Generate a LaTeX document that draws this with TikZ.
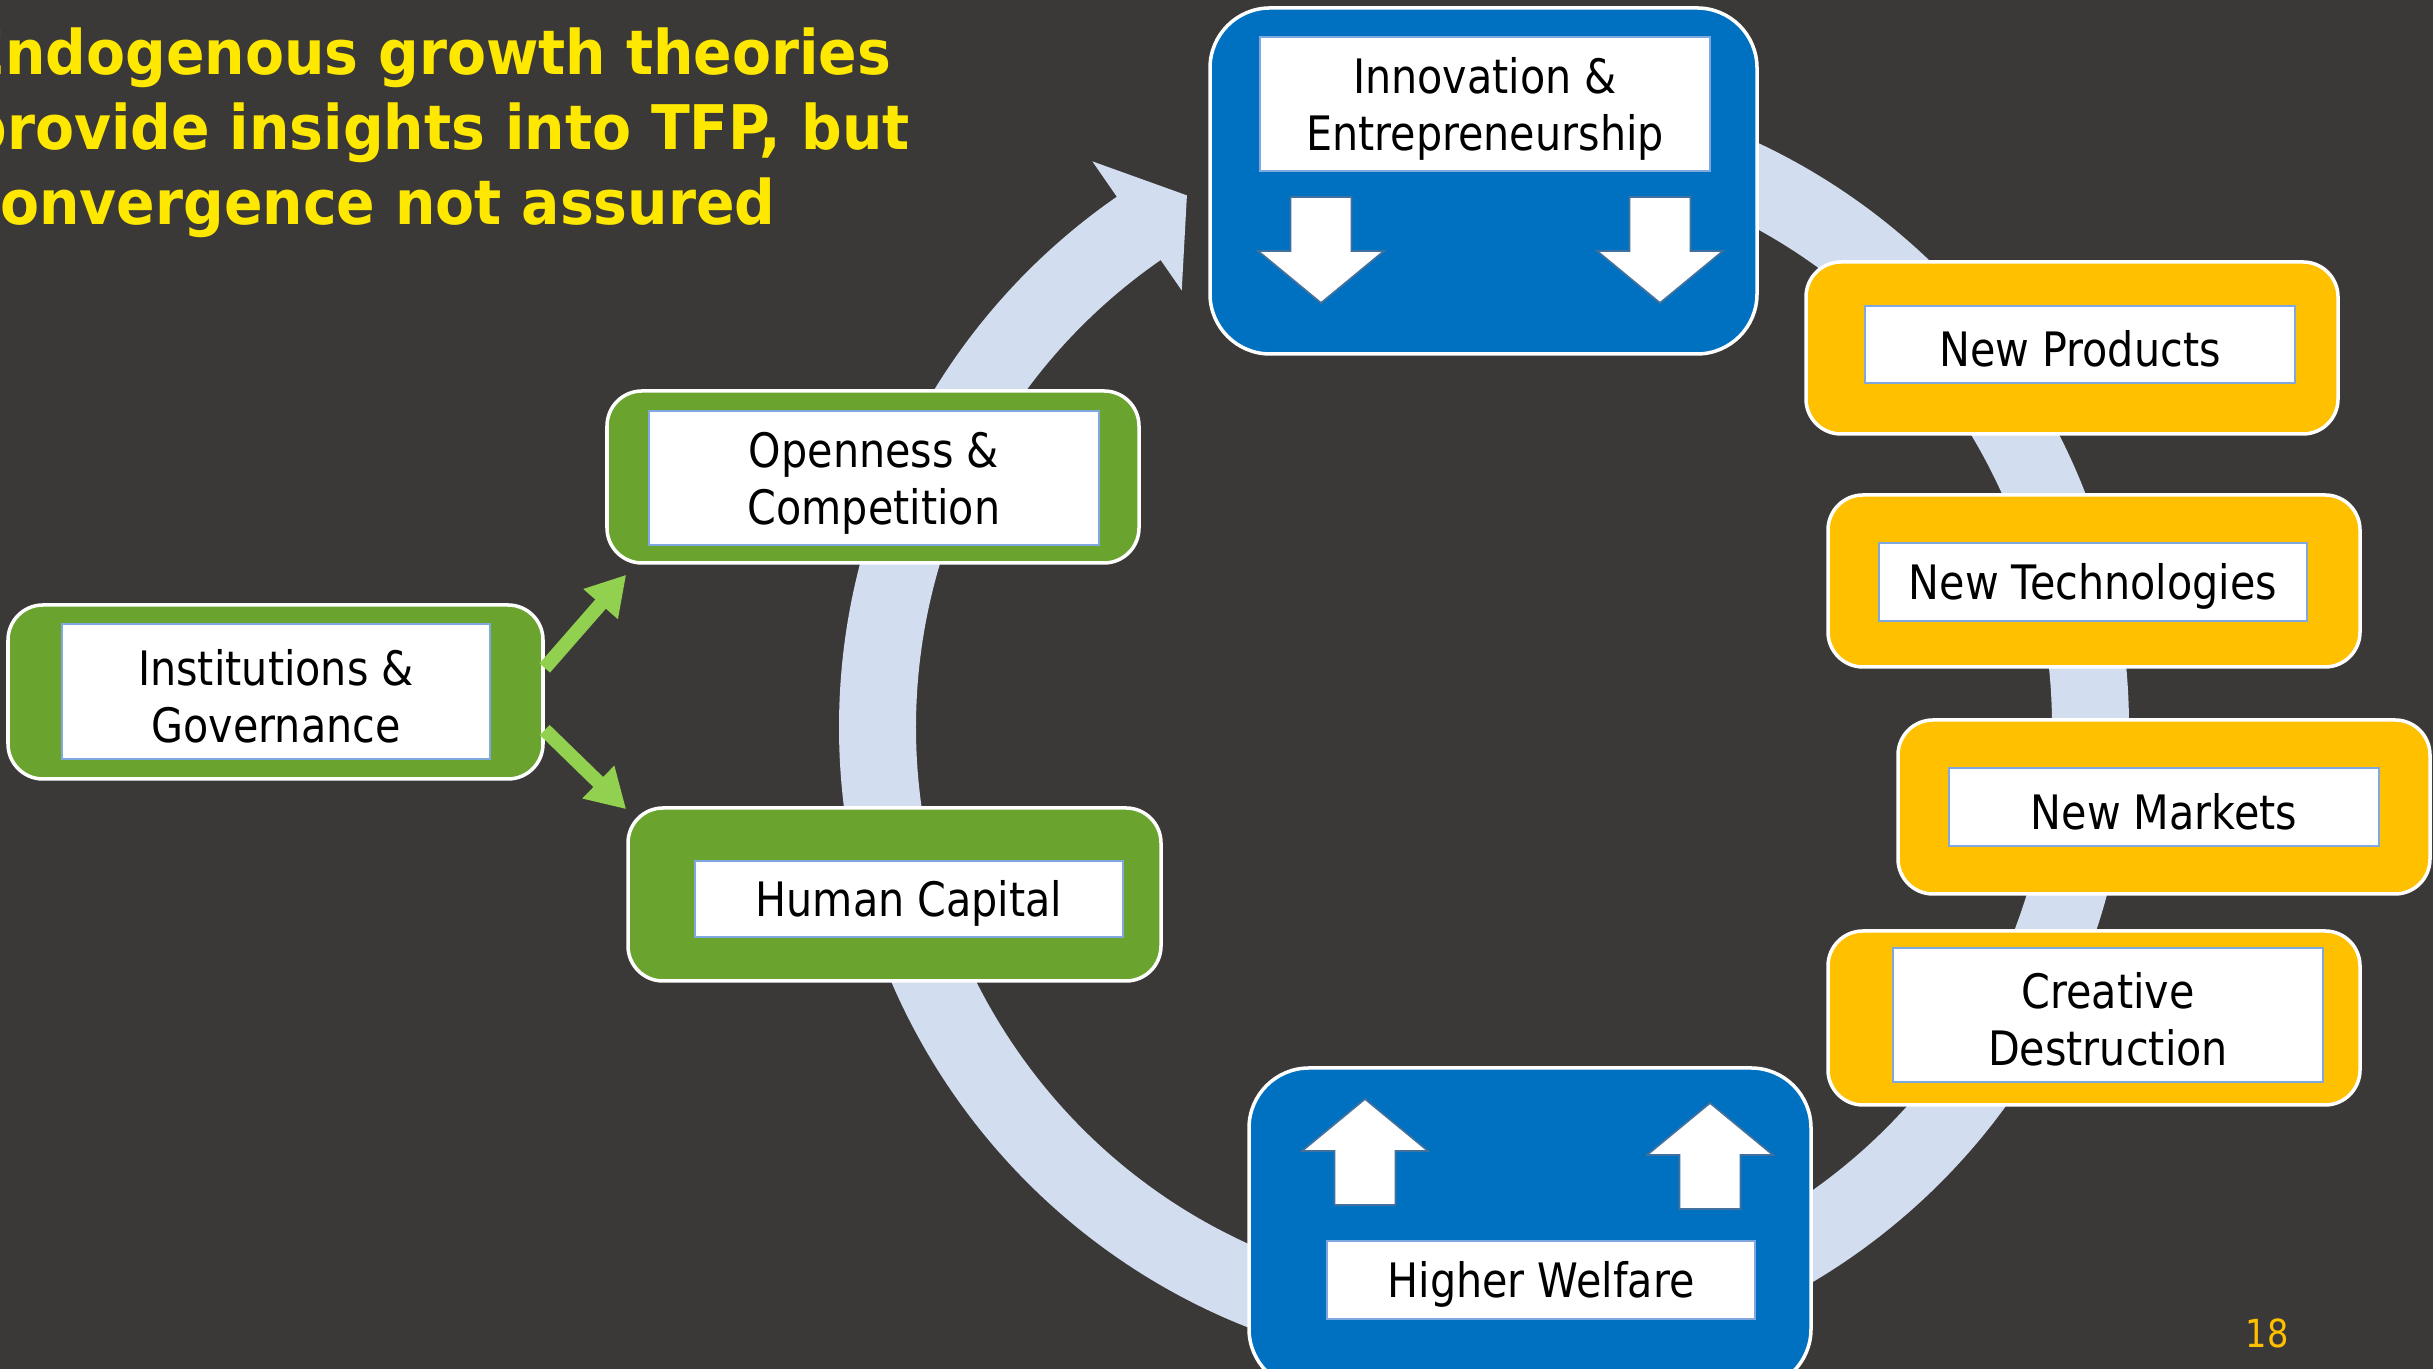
\documentclass[tikz,border=0pt]{standalone}
\usepackage{fontspec}
\setmainfont[FakeStretch=0.87]{DejaVu Sans}
\newfontfamily\headfont[FakeStretch=0.924]{DejaVu Sans}
\usepackage{tikz}
\usetikzlibrary{calc,arrows.meta}

\definecolor{slate}{HTML}{3B3937}
\definecolor{ringblue}{HTML}{D2DDEF}
\definecolor{boxblue}{HTML}{0070C0}
\definecolor{boxgreen}{HTML}{6AA42F}
\definecolor{boxgold}{HTML}{FFC000}
\definecolor{leafgreen}{HTML}{92D050}
\definecolor{titleyellow}{HTML}{FFE800}
\definecolor{frameblue}{HTML}{7FA9DE}
\definecolor{arrowedge}{HTML}{41719C}

% extra head room on the first line of a two-line tag
\newcommand{\lift}{\rule{0pt}{0.95em}}

\begin{document}
\begin{tikzpicture}[
	panel/.style={draw=white, line width=1pt, rounded corners=0.35cm, inner sep=0pt},
	bigpanel/.style={panel, fill=boxblue, rounded corners=0.6cm},
	tag/.style={fill=white, draw=frameblue, line width=0.6pt, inner sep=0pt, align=center,
		text=black, font=\fontsize{13.5}{16.2}\selectfont,
		execute at begin node={\rule{0pt}{0.95em}}},
	sprout/.style={leafgreen, line width=0.14cm, -{Triangle[width=0.43cm,length=0.39cm]}},
	block/.pic={
		\filldraw[fill=white, draw=arrowedge, line width=0.5pt]
			(0,0) -- (-0.63,0.52) -- (-0.305,0.52) -- (-0.305,1.06)
			-- (0.305,1.06) -- (0.305,0.52) -- (0.63,0.52) -- cycle;
	}
]

	\fill[slate] (0,0) rectangle (24.33,13.69);
	\useasboundingbox (0,0) rectangle (24.33,13.69);

	% the growth cycle
	\coordinate (hub) at (14.84,6.42);
	\begin{scope}[shift={(hub)}]
		\fill[ringblue] (90:6.45) arc[start angle=90, end angle=-235.3, radius=6.45]
			-- (124.7:6.88) -- (119.2:6.09) -- (124.7:5.31) -- (124.7:5.68)
			arc[start angle=-235.3, end angle=90, radius=5.68] -- cycle;
	\end{scope}

	\node[bigpanel, minimum width=5.47cm, minimum height=3.46cm] (inno) at (14.835,11.88) {};
	\node[tag, minimum width=4.50cm, minimum height=1.34cm] (innotext) at (14.85,12.65)
		{\lift Innovation \&\\Entrepreneurship};
	\pic at (13.21,10.66) {block};
	\pic at (16.60,10.66) {block};

	\node[bigpanel, minimum width=5.62cm, minimum height=3.21cm] (welfare) at (15.30,1.405) {};
	\node[tag, minimum width=4.28cm, minimum height=0.78cm] (welfaretext) at (15.41,0.89)
		{Higher Welfare};
	\pic[rotate=180] at (13.65,2.70) {block};
	\pic[rotate=180] at (17.10,2.66) {block};

	\node[panel, fill=boxgreen, minimum width=5.32cm, minimum height=1.72cm] (open) at (8.73,8.92) {};
	\node[tag, minimum width=4.50cm, minimum height=1.34cm] (opentext) at (8.74,8.91)
		{\lift Openness \&\\Competition};

	\node[panel, fill=boxgreen, minimum width=5.35cm, minimum height=1.74cm] (inst) at (2.755,6.77) {};
	\node[tag, minimum width=4.28cm, minimum height=1.35cm] (insttext) at (2.76,6.775)
		{\lift Institutions \&\\Governance};

	\node[panel, fill=boxgreen, minimum width=5.33cm, minimum height=1.73cm] (hc) at (8.945,4.745) {};
	\node[tag, minimum width=4.28cm, minimum height=0.76cm] (hctext) at (9.09,4.70)
		{Human Capital};

	\node[panel, fill=boxgold, minimum width=5.32cm, minimum height=1.72cm] (prod) at (20.72,10.21) {};
	\node[tag, minimum width=4.30cm, minimum height=0.77cm] (prodtext) at (20.80,10.245)
		{New Products};

	\node[panel, fill=boxgold, minimum width=5.32cm, minimum height=1.72cm] (tech) at (20.94,7.88) {};
	\node[tag, minimum width=4.28cm, minimum height=0.78cm] (techtext) at (20.93,7.87)
		{New Technologies};

	\node[panel, fill=boxgold, minimum width=5.32cm, minimum height=1.74cm] (mkt) at (21.64,5.62) {};
	\node[tag, minimum width=4.30cm, minimum height=0.78cm] (mkttext) at (21.64,5.62)
		{New Markets};

	\node[panel, fill=boxgold, minimum width=5.32cm, minimum height=1.74cm] (cd) at (20.94,3.51) {};
	\node[tag, minimum width=4.30cm, minimum height=1.34cm] (cdtext) at (21.08,3.54)
		{\lift Creative\\Destruction};

	\draw[sprout] ($(inst.east)+(0,0.24)$) -- ($(open.south west)+(0.21,-0.10)$);
	\draw[sprout] ($(inst.east)+(0,-0.38)$) -- ($(hc.north west)+(0,-0.03)$);

	\node[anchor=north west, inner sep=0pt, align=left, text=titleyellow,
		font=\headfont\bfseries\fontsize{17.5}{21.4}\selectfont] (headline) at (-0.34,13.42)
		{Endogenous growth theories\\provide insights into TFP, but\\convergence not assured};

	\node[text=boxgold, font=\fontsize{11}{13}\selectfont] (pageno) at (22.67,0.36) {18};

\end{tikzpicture}
\end{document}
